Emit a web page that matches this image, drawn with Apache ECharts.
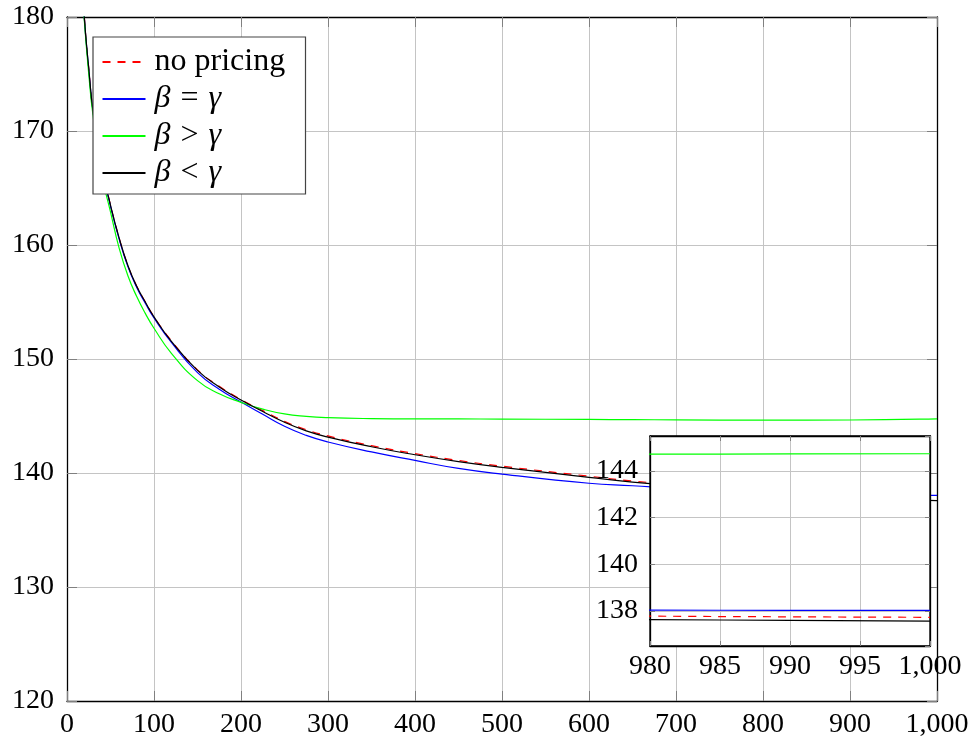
<!DOCTYPE html>
<html><head><meta charset="utf-8">
<script src="https://cdn.jsdelivr.net/npm/echarts@6/dist/echarts.min.js"></script>
<style>html,body{margin:0;padding:0;background:#fff}#c{width:976px;height:742px}</style>
</head><body><div id="c"></div>
<script>
// ---- data ----
const xValues     = [15, 20, 25, 30, 40, 50, 60, 70, 80, 90, 100, 120, 150, 175, 200, 225, 250, 275, 300, 350, 400, 450, 500, 600, 650, 700, 800, 900, 980, 990, 1000];
const noPricing   = [186.5, 179.9, 175.5, 171.7, 166.9, 163.5, 160.6, 158.2, 156.4, 155.0, 153.7, 151.6, 149.05, 147.6, 146.45, 145.47, 144.53, 143.8, 143.25, 142.4, 141.7, 141.1, 140.6, 139.72, 139.3, 139.0, 138.48, 138.08, 137.78, 137.75, 137.73];
const betaEqGamma = [186.3, 179.8, 175.4, 171.6, 166.8, 163.4, 160.5, 158.1, 156.3, 154.9, 153.6, 151.45, 148.8, 147.35, 146.22, 145.15, 144.1, 143.3, 142.72, 141.85, 141.1, 140.4, 139.9, 139.1, 138.88, 138.65, 138.35, 138.13, 138.04, 138.03, 138.03];
const betaGtGamma = [185.5, 179.6, 175.0, 171.3, 166.2, 162.9, 159.7, 157.3, 155.5, 154.0, 152.7, 150.5, 148.1, 146.95, 146.2, 145.6, 145.18, 144.97, 144.86, 144.77, 144.74, 144.74, 144.73, 144.7, 144.68, 144.66, 144.63, 144.65, 144.72, 144.73, 144.74];
const betaLtGamma = [186.5, 179.9, 175.5, 171.7, 166.9, 163.5, 160.6, 158.2, 156.4, 155.0, 153.7, 151.55, 149.0, 147.55, 146.4, 145.4, 144.45, 143.7, 143.15, 142.3, 141.6, 141.0, 140.5, 139.62, 139.2, 138.9, 138.35, 137.93, 137.63, 137.60, 137.57];
const seriesNames = ['no pricing', 'β = γ', 'β > γ', 'β < γ'];
const seriesValues = [noPricing, betaEqGamma, betaGtGamma, betaLtGamma];
const seriesColors = ['#ff0000', '#0000ff', '#00ff00', '#000000'];
const mainXRange = [0, 1000, 100];
const mainYRange = [120, 180, 10];
const insetXRange = [980, 1000, 5];
const insetYRange = [136.5, 145.5, 2];

// ---- chart ----
const FONT = "'Liberation Serif', 'DejaVu Serif', serif";
const GRIDC = '#c4c4c4';
const TICKC = '#808080';
const fmt = v => (v >= 1000 ? String(v).replace(/(\d)(?=(\d{3})+$)/g, '$1,') : String(v));

function axis(grid, pos, range, opts) {
  const a = {
    type: 'value', gridIndex: grid, position: pos,
    min: range[0], max: range[1],
    axisLine: { show: true, onZero: false, lineStyle: { color: '#000', width: 1.3 } },
    axisTick: { show: true, inside: true, length: opts.tick, lineStyle: { color: TICKC, width: 1 } },
    axisLabel: { show: opts.label, margin: opts.margin, fontFamily: FONT, fontSize: 28, color: '#000', formatter: fmt, showMinLabel: opts.label, showMaxLabel: opts.label },
    splitLine: { show: opts.split, showMinLine: false, showMaxLine: false, lineStyle: { color: GRIDC, width: 1 } },
    z: opts.z
  };
  if (opts.nice) { a.minInterval = range[2]; a.maxInterval = range[2]; }
  else a.interval = range[2];
  return a;
}

const xAxes = [
  axis(0, 'bottom', mainXRange, { tick: 10, label: true, margin: 10, split: true, z: 0 }),
  axis(0, 'top', mainXRange, { tick: 10, label: false, margin: 6, split: false, z: 0 }),
  axis(1, 'bottom', insetXRange, { tick: 5, label: true, margin: 7, split: true, z: 6 }),
  axis(1, 'top', insetXRange, { tick: 5, label: false, margin: 5, split: false, z: 6 })
];
const yAxes = [
  axis(0, 'left', mainYRange, { tick: 10, label: true, margin: 13, split: true, z: 0 }),
  axis(0, 'right', mainYRange, { tick: 10, label: false, margin: 13, split: false, z: 0 }),
  axis(1, 'left', insetYRange, { tick: 5, label: true, margin: 12, split: true, z: 6, nice: true }),
  axis(1, 'right', insetYRange, { tick: 5, label: false, margin: 12, split: false, z: 6, nice: true })
];
yAxes[2].axisLabel.formatter = v => (Math.abs(v - Math.round(v)) < 1e-6 ? String(v) : '');
yAxes[2].axisLabel.showMinLabel = false;
yAxes[2].axisLabel.showMaxLabel = false;

function makeSeries(i, xi, yi, z) {
  return {
    type: 'line', name: seriesNames[i], xAxisIndex: xi, yAxisIndex: yi,
    data: xValues.map((x, k) => [x, seriesValues[i][k]]),
    smooth: true, symbol: 'none', showSymbol: false, clip: true, z: z,
    lineStyle: { color: seriesColors[i], width: 1.2, type: i === 0 ? [8, 7] : 'solid' },
    itemStyle: { color: seriesColors[i] },
    emphasis: { disabled: true }
  };
}
const series = [];
for (let i = 0; i < 4; i++) series.push(makeSeries(i, 0, 0, 2));
for (let i = 0; i < 4; i++) series.push(makeSeries(i, 2, 2, 7));

const chart = echarts.init(document.getElementById('c'), null, { renderer: 'canvas' });
chart.setOption({
  animation: false,
  backgroundColor: '#fff',
  grid: [
    { left: 67, top: 17, width: 870, height: 684, show: false, containLabel: false },
    { left: 650, top: 436, width: 280, height: 210, show: true, backgroundColor: '#fff', borderColor: '#000', borderWidth: 1.3, z: 5, containLabel: false }
  ],
  xAxis: xAxes,
  yAxis: yAxes,
  legend: {
    orient: 'vertical', left: 93, top: 37, padding: [9, 14, 5, 8.5], itemGap: 5,
    itemWidth: 43, itemHeight: 14, backgroundColor: '#fff', borderColor: '#444', borderWidth: 1.2,
    data: seriesNames, selectedMode: false,
    itemStyle: { opacity: 0, borderWidth: 0 },
    formatter: n => n.replace(/([βγ])/g, '{i|$1}').replace(/ ([=<>]) /g, '{o|$1}'),
    textStyle: {
      fontFamily: FONT, fontSize: 32, color: '#000', lineHeight: 28, width: 137, padding: [0, 0, 0, 4],
      rich: {
        i: { fontStyle: 'italic', fontFamily: FONT, fontSize: 32, lineHeight: 28, color: '#000' },
        o: { fontFamily: FONT, fontSize: 32, lineHeight: 28, color: '#000', padding: [0, 10, 0, 10] }
      }
    }
  },
  series: series
});
</script>
</body></html>
